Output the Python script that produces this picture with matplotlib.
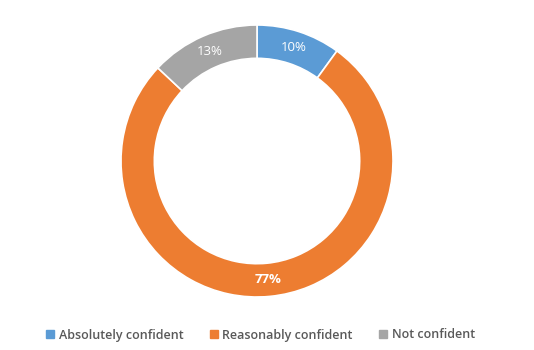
import matplotlib
matplotlib.use("Agg")
import matplotlib.pyplot as plt
from matplotlib.lines import Line2D

categories = ["Absolutely confident", "Reasonably confident", "Not confident"]
values = [10, 77, 13]
labels = ["10%", "77%", "13%"]
colors = ["#5B9BD5", "#ED7D31", "#A5A5A5"]

W, H = 534, 350
fig = plt.figure(figsize=(W / 100, H / 100), dpi=100)
cx, cy, R = 257, 161, 136
ax = fig.add_axes([(cx - R) / W, (H - cy - R) / H, 2 * R / W, 2 * R / H])
wedges, texts = ax.pie(values, colors=colors, startangle=90, counterclock=False,
                       radius=1.0, labels=labels, labeldistance=0.875,
                       wedgeprops=dict(width=0.245, edgecolor="white", linewidth=1.2),
                       textprops=dict(color="white", fontsize=9.5, family="Open Sans"))
for t in texts:
    t.set_ha("center")
    t.set_va("center")
texts[1].set_fontweight("bold")
ax.set_xlim(-1, 1)
ax.set_ylim(-1, 1)
ax.set_aspect("equal")
ax.axis("off")

handles = [Line2D([0], [0], marker="s", linestyle="none", markersize=5.5,
                  markerfacecolor=c, markeredgecolor=c) for c in colors]
fig.legend(handles, categories, loc="center", bbox_to_anchor=(0.487, 1 - 335 / H),
           ncol=3, frameon=False, handlelength=0.8, handletextpad=0.3,
           columnspacing=2.0,
           prop=dict(family="Open Sans", size=9.0, weight="semibold"),
           labelcolor="#595959")

fig.savefig("out.png", dpi=100)
